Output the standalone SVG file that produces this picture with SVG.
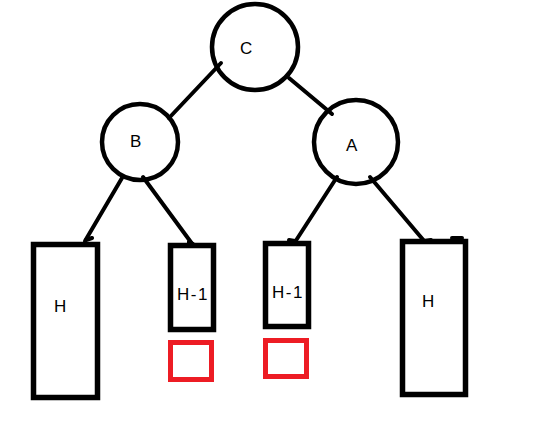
<svg xmlns="http://www.w3.org/2000/svg" width="535" height="425" viewBox="0 0 535 425">
<style>
.n{fill:none;stroke:#000;stroke-width:4.5}
.r{fill:none;stroke:#000;stroke-width:5.5}
.q{fill:none;stroke:#ED1C24;stroke-width:5}
.e{stroke:#000;stroke-width:4;fill:none;stroke-linecap:round}
.t{font-family:"Liberation Sans",Arial,sans-serif;font-size:17px;fill:#000}
.s{letter-spacing:1.5px}
</style>
<rect width="535" height="425" fill="#fff"/>
<g id="connectors">
<line class="e" x1="221" y1="63" x2="169" y2="118"/>
<line class="e" x1="289" y1="78" x2="332" y2="114"/>
<line class="e" x1="122" y1="178" x2="85" y2="241"/>
<line class="e" x1="143" y1="177" x2="193" y2="245"/>
<line class="e" x1="337" y1="177" x2="295" y2="242"/>
<line class="e" x1="370" y1="177" x2="425" y2="242"/>
<path class="e" d="M86 240 l6 -2 M193 244 l-4 -2 M295 241 l-6 -1 M425 241 l6 -1 M452 238 l10 0" stroke-width="3"/>
</g>
<g id="C"><circle class="n" cx="255" cy="47" r="43"/><text class="t" x="240" y="54">C</text></g>
<g id="B"><circle class="n" cx="140" cy="142" r="38"/><text class="t" x="130" y="147">B</text></g>
<g id="A"><circle class="n" cx="356" cy="142" r="42"/><text class="t" x="346" y="151">A</text></g>
<g id="H-left"><rect class="r" x="33.5" y="244.5" width="64" height="153"/><text class="t" x="54" y="312">H</text></g>
<g id="H1-left"><rect class="r" x="170.5" y="245.5" width="43" height="84"/><text class="t s" x="177" y="300">H-1</text></g>
<g id="H1-right"><rect class="r" x="265.5" y="243.5" width="43" height="83"/><text class="t s" x="272" y="298">H-1</text></g>
<g id="H-right"><rect class="r" x="402.5" y="241.5" width="63" height="153"/><text class="t" x="422" y="307">H</text></g>
<g id="red-left"><rect class="q" x="170.5" y="342.5" width="41" height="37"/></g>
<g id="red-right"><rect class="q" x="265.5" y="340.5" width="41" height="36"/></g>
</svg>
